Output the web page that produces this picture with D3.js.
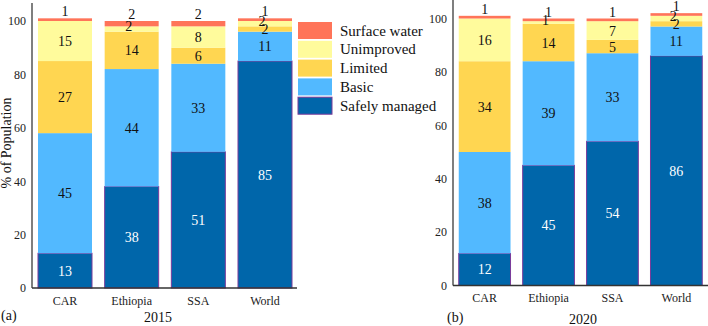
<!DOCTYPE html>
<html>
<head>
<meta charset="utf-8">
<script src="https://cdn.jsdelivr.net/npm/d3@7/dist/d3.min.js"></script>
<style>
body{margin:0;background:#fff;}
svg text{font-family:"Liberation Serif","Times New Roman",serif !important;}
</style>
</head>
<body>
<svg id="chart" width="708" height="326" font-family="Liberation Serif, serif"></svg>
<script>
const categories = ["CAR","Ethiopia","SSA","World"];
const seriesNames = ["Safely managed","Basic","Limited","Unimproved","Surface water"];
const seriesColors = ["#0066AA","#52B9FF","#FFD651","#FFFB9C","#FF7459"];
const yTicks = [0,20,40,60,80,100];
// values per series, in category order
const safely2015 = [13,38,51,85];
const basic2015 = [45,44,33,11];
const limited2015 = [27,14,6,2];
const unimproved2015 = [15,2,8,2];
const surface2015 = [1,2,2,1];
const safely2020 = [12,45,54,86];
const basic2020 = [38,39,33,11];
const limited2020 = [34,14,5,2];
const unimproved2020 = [16,1,7,2];
const surface2020 = [1,1,1,1];

const FONT = '"Liberation Serif","Times New Roman",serif';
const svg = d3.select("#chart");

function buildRows(series){
  return categories.map((c,i)=>{
    const r = {cat:c};
    seriesNames.forEach((s,j)=>{ r[s] = series[j][i]; });
    return r;
  });
}

function drawPanel(opts){
  const rows = buildRows(opts.series);
  const stack = d3.stack().keys(seriesNames)(rows);
  const y = d3.scaleLinear().domain([0,100]).range([opts.y0, opts.y100]);
  const x = d3.scaleBand().domain(categories).range([opts.x0, opts.x1]).paddingInner(0.19).paddingOuter(0.09);
  const g = svg.append("g");

  stack.forEach((layer,j)=>{
    g.selectAll(null).data(layer).enter().append("rect")
      .attr("x", d=>x(d.data.cat))
      .attr("width", x.bandwidth())
      .attr("y", d=>y(d[1]))
      .attr("height", d=>y(d[0])-y(d[1]))
      .attr("fill", seriesColors[j])
      .attr("stroke", j===0 ? "#7a3a9a" : "none")
      .attr("stroke-width", j===0 ? 1 : 0);
  });

  // labels
  stack.forEach((layer,j)=>{
    const isTop = j===seriesNames.length-1;
    const isUnimp = j===3;
    g.selectAll(null).data(layer).enter().append("text")
      .attr("x", d=>{
        let cx = x(d.data.cat)+x.bandwidth()/2;
        if(isUnimp && (d[1]-d[0])<=2) cx -= 3;
        return cx;
      })
      .attr("y", d=>{
        if(isTop) return y(d[1])-2;
        let cy = (y(d[0])+y(d[1]))/2 + 5;
        if(isUnimp && (d[1]-d[0])<=2) cy -= 3;
        return cy;
      })
      .attr("text-anchor","middle")
      .attr("font-size", 14)
      .style("font-family", FONT)
      .attr("fill", j===0 ? "#fff" : "#111")
      .text(d=>d[1]-d[0]);
  });

  // y axis
  const yAxis = d3.axisLeft(y).tickValues(yTicks).tickSize(0).tickPadding(6);
  const ya = g.append("g").attr("transform",`translate(${opts.x0},0)`).call(yAxis)
    .attr("font-family", null);
  ya.select(".domain").remove();
  ya.selectAll("text").attr("font-size",12).attr("fill","#222").style("font-family",FONT);
  g.append("line").attr("x1",opts.x0).attr("x2",opts.x0)
    .attr("y1",opts.axisTop).attr("y2",opts.y0)
    .attr("stroke","#555").attr("stroke-width",1.5);

  // x axis
  const xAxis = d3.axisBottom(x).tickSize(0).tickPadding(8);
  const xa = g.append("g").attr("transform",`translate(0,${opts.y0})`).call(xAxis)
    .attr("font-family", null);
  xa.select(".domain").remove();
  xa.selectAll("text").attr("font-size",12).attr("fill","#222").style("font-family",FONT);
  g.append("line").attr("x1",opts.x0).attr("x2",opts.axisRight)
    .attr("y1",opts.y0).attr("y2",opts.y0)
    .attr("stroke","#333").attr("stroke-width",1.5);

  g.append("text").attr("x",opts.titleX).attr("y",opts.titleY)
    .attr("text-anchor","middle").attr("font-size",14).attr("fill","#111")
    .style("font-family",FONT).text(opts.title);
  g.append("text").attr("x",opts.tagX).attr("y",opts.titleY-2)
    .attr("font-size",14).attr("fill","#111").style("font-family",FONT).text(opts.tag);
}

drawPanel({
  series:[safely2015,basic2015,limited2015,unimproved2015,surface2015],
  x0:32, x1:298, axisRight:297, y0:288, y100:21, axisTop:3,
  title:"2015", titleX:158, titleY:322, tag:"(a)", tagX:1
});
drawPanel({
  series:[safely2020,basic2020,limited2020,unimproved2020,surface2020],
  x0:453, x1:708, axisRight:708, y0:285.5, y100:18.5, axisTop:0,
  title:"2020", titleX:583, titleY:324, tag:"(b)", tagX:447
});

// y axis title
svg.append("text").attr("transform","translate(11,143) rotate(-90)")
  .attr("text-anchor","middle").attr("font-size",14).attr("fill","#111")
  .style("font-family",FONT)
  .text("% of Population");

// legend
const legendOrder = seriesNames.map((s,i)=>({name:s,color:seriesColors[i],i})).reverse();
const lg = svg.append("g").attr("transform","translate(298,22)");
const item = lg.selectAll(null).data(legendOrder).enter().append("g")
  .attr("transform",(d,k)=>`translate(0,${k*18.8})`);
item.append("rect").attr("width",34).attr("height",17)
  .attr("fill",d=>d.color)
  .attr("stroke",d=>d.i===0?"#7a3a9a":"none").attr("stroke-width",1);
item.append("text").attr("x",42).attr("y",13.5).attr("font-size",15).attr("fill","#111")
  .style("font-family",FONT)
  .text(d=>d.name);
</script>
</body>
</html>
